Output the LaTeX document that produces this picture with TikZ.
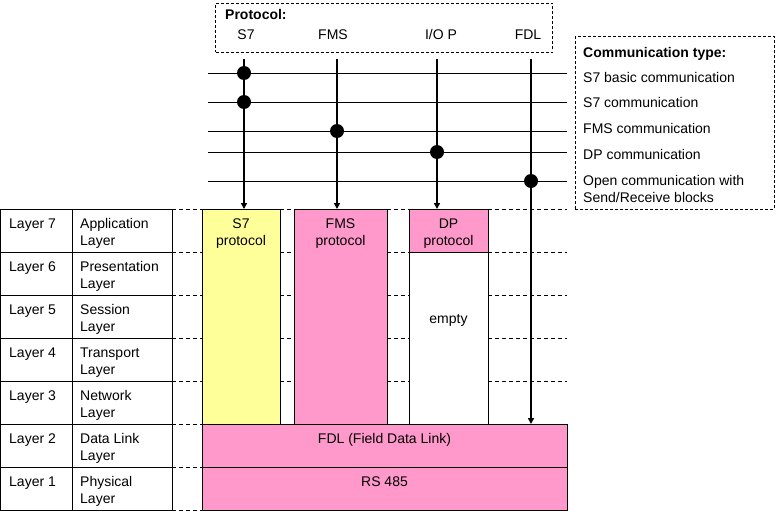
\documentclass[tikz,border=0pt]{standalone}
\usepackage{fontspec}
\setmainfont{Liberation Sans}
\usetikzlibrary{arrows.meta}
\definecolor{yel}{RGB}{255,255,153}
\definecolor{pnk}{RGB}{255,153,204}
\begin{document}
\begin{tikzpicture}[x=1pt,y=-1pt,
  font=\fontsize{14}{17}\selectfont,
  box/.style={draw, line width=0.8pt, inner sep=0pt, outer sep=0pt, anchor=north west},
  txt/.style={inner sep=0pt, anchor=base},
  txtw/.style={inner sep=0pt, anchor=base west},
  rowdash/.style={dash pattern=on 4pt off 3pt, line width=0.7pt},
  framedash/.style={draw, dash pattern=on 3pt off 2pt, line width=0.8pt, inner sep=0pt, outer sep=0pt, anchor=north west},
  varrow/.style={line width=1.6pt, -{Triangle[length=6pt,width=6pt]}},
  hline/.style={line width=0.8pt},
  dot/.style={circle, fill, inner sep=0pt, minimum size=14pt}]
\useasboundingbox (0,0) rectangle (776,511);

% dashed row lines
\foreach \j in {0,...,7}{
  \pgfmathsetmacro\yy{209+43*\j}
  \draw[rowdash] (172,\yy) -- (202,\yy);
}
\foreach \j in {0,...,4}{
  \pgfmathsetmacro\yy{209+43*\j}
  \draw[rowdash] (280,\yy) -- (294,\yy);
  \draw[rowdash] (387,\yy) -- (409,\yy);
  \draw[rowdash] (488,\yy) -- (567,\yy);
}

% layer table
\foreach \n/\a [count=\k from 0] in {7/Application,6/Presentation,5/Session,4/Transport,3/Network,2/Data Link,1/Physical}{
  \pgfmathsetmacro\ty{209+43*\k}
  \pgfmathsetmacro\by{\ty+19.5}
  \pgfmathsetmacro\cy{\ty+36.5}
  \node[box, minimum width=71.5pt, minimum height=43pt] (lc\k) at (0.5,\ty) {};
  \node[box, minimum width=100pt, minimum height=43pt] (nc\k) at (72,\ty) {};
  \node[txtw] (lt\k) at (9,\by) {Layer \n};
  \node[txtw] (na\k) at (80,\by) {\a};
  \node[txtw] (nb\k) at (80,\cy) {Layer};
}

% protocol boxes
\node[box, fill=yel, minimum width=78pt, minimum height=215pt] (s7) at (202,209) {};
\node[box, fill=pnk, minimum width=93pt, minimum height=215pt] (fms) at (294,209) {};
\node[box, fill=pnk, minimum width=79pt, minimum height=43pt] (dp) at (409,209) {};
\node[box, fill=white, minimum width=79pt, minimum height=172pt] (emp) at (409,252) {};
\node[box, fill=pnk, minimum width=365pt, minimum height=43pt] (fdl) at (202,424) {};
\node[box, fill=pnk, minimum width=365pt, minimum height=43pt] (rs) at (202,467) {};

\node[txt] (s7a) at (241,228.5) {S7};
\node[txt] (s7b) at (241,245.5) {protocol};
\node[txt] (fmsa) at (340.5,228.5) {FMS};
\node[txt] (fmsb) at (340.5,245.5) {protocol};
\node[txt] (dpa) at (448.5,228.5) {DP};
\node[txt] (dpb) at (448.5,245.5) {protocol};
\node[txt] (empt) at (448.5,323) {empty};
\node[txt] (fdlt) at (384.5,443.5) {FDL (Field Data Link)};
\node[txt] (rst) at (384.5,486) {RS 485};

% protocol header box
\node[framedash, minimum width=337pt, minimum height=49pt] (pbox) at (215.5,3.5) {};
\node[txtw, font=\fontsize{14}{17}\selectfont\bfseries] (ptit) at (225,20) {Protocol:};
\node[txt] (pS7) at (246,40) {S7};
\node[txt] (pFMS) at (333,40) {FMS};
\node[txt] (pIO) at (441,40) {I/O P};
\node[txt] (pFDL) at (528,40) {FDL};

% communication type box
\node[framedash, minimum width=199pt, minimum height=172.5pt] (cbox) at (575,36.5) {};
\node[txtw, font=\fontsize{14}{17}\selectfont\bfseries] (ctit) at (583,57) {Communication type:};
\node[txtw] (c1) at (583,82) {S7 basic communication};
\node[txtw] (c2) at (583,107) {S7 communication};
\node[txtw] (c3) at (583,133) {FMS communication};
\node[txtw] (c4) at (583,159) {DP communication};
\node[txtw] (c5) at (583,185) {Open communication with};
\node[txtw] (c6) at (583,202) {Send/Receive blocks};

% horizontal communication lines
\foreach \i/\yy in {1/73,2/102,3/131,4/152,5/181}{
  \coordinate (hl\i) at (208,\yy);
  \coordinate (hr\i) at (567,\yy);
  \draw[hline] (hl\i) -- (hr\i);
}

% vertical arrows
\coordinate (vs7) at (244,59);
\coordinate (vfms) at (337,59);
\coordinate (vdp) at (437,59);
\coordinate (vfdl) at (531,59);
\draw[varrow] (vs7) -- (vs7 |- s7.north);
\draw[varrow] (vfms) -- (vfms |- fms.north);
\draw[varrow] (vdp) -- (vdp |- dp.north);
\draw[varrow] (vfdl) -- (vfdl |- fdl.north);

% dots
\node[dot] (d1) at (vs7 |- hl1) {};
\node[dot] (d2) at (vs7 |- hl2) {};
\node[dot] (d3) at (vfms |- hl3) {};
\node[dot] (d4) at (vdp |- hl4) {};
\node[dot] (d5) at (vfdl |- hl5) {};
\end{tikzpicture}
\end{document}
